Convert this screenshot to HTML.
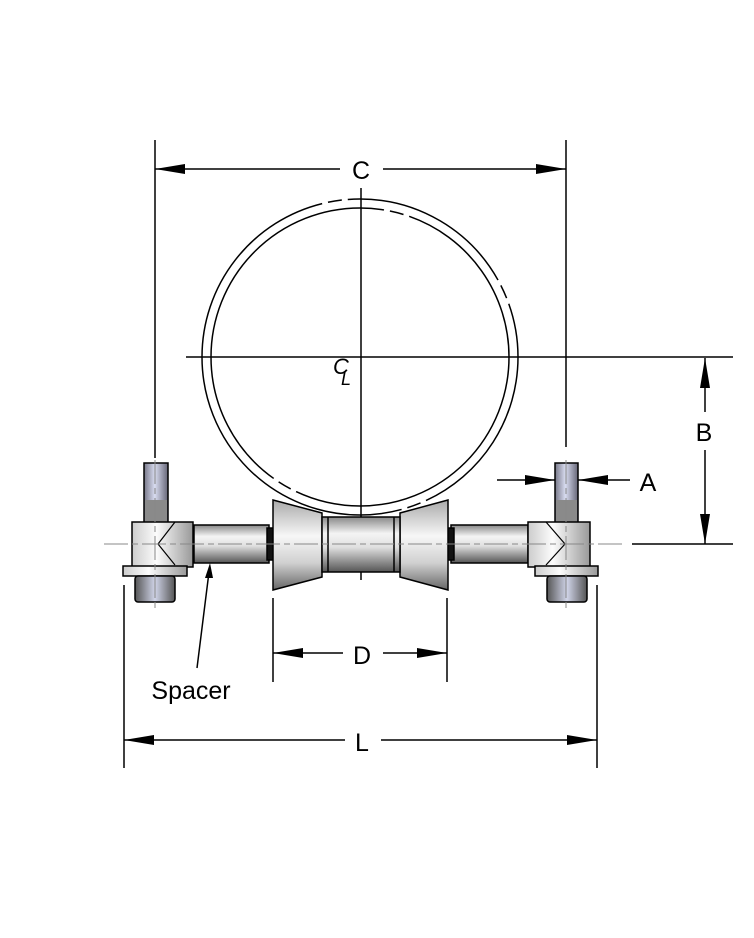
<!DOCTYPE html>
<html><head><meta charset="utf-8"><style>
html,body{margin:0;padding:0;background:#fff;}
svg{display:block;font-family:"Liberation Sans",sans-serif;}
</style></head><body>
<svg width="754" height="938" viewBox="0 0 754 938" xmlns="http://www.w3.org/2000/svg">
<defs>
<linearGradient id="pipe" x1="0" y1="0" x2="0" y2="1">
<stop offset="0" stop-color="#888"/><stop offset="0.3" stop-color="#f4f4f4"/><stop offset="0.55" stop-color="#e0e0e0"/><stop offset="1" stop-color="#555"/>
</linearGradient>
<linearGradient id="cone" x1="0" y1="0" x2="0" y2="1">
<stop offset="0" stop-color="#aaa"/><stop offset="0.4" stop-color="#f7f7f7"/><stop offset="0.7" stop-color="#d0d0d0"/><stop offset="1" stop-color="#666"/>
</linearGradient>
<linearGradient id="blk" x1="0" y1="0" x2="1" y2="0">
<stop offset="0" stop-color="#ccc"/><stop offset="0.4" stop-color="#fcfcfc"/><stop offset="1" stop-color="#999"/>
</linearGradient>
<linearGradient id="stud" x1="0" y1="0" x2="1" y2="0">
<stop offset="0" stop-color="#778"/><stop offset="0.45" stop-color="#d8dcf0"/><stop offset="1" stop-color="#667"/>
</linearGradient>
<linearGradient id="nut" x1="0" y1="0" x2="1" y2="0">
<stop offset="0" stop-color="#555"/><stop offset="0.5" stop-color="#d0d4e8"/><stop offset="1" stop-color="#555"/>
</linearGradient>
</defs>
<g stroke="#000" stroke-width="1.5" fill="none">
<circle cx="360" cy="357" r="158" stroke-dasharray="180 6 14 6 500 6 14 6"/>
<circle cx="360" cy="357" r="149" stroke-dasharray="300 6 14 6 400 6 14 6"/>
<line x1="361" y1="188" x2="361" y2="580"/>
<line x1="186" y1="357" x2="733" y2="357"/>
<line x1="155" y1="140" x2="155" y2="458"/>
<line x1="566" y1="140" x2="566" y2="447"/>
<line x1="155" y1="169" x2="340" y2="169"/>
<line x1="383" y1="169" x2="566" y2="169"/>
<line x1="632" y1="544" x2="733" y2="544"/>
<line x1="705" y1="358" x2="705" y2="412"/>
<line x1="705" y1="450" x2="705" y2="544"/>
<line x1="497" y1="480" x2="555" y2="480"/>
<line x1="578" y1="480" x2="630" y2="480"/>
<line x1="273" y1="598" x2="273" y2="682"/>
<line x1="447" y1="598" x2="447" y2="682"/>
<line x1="273" y1="653" x2="343" y2="653"/>
<line x1="383" y1="653" x2="447" y2="653"/>
<line x1="124" y1="585" x2="124" y2="768"/>
<line x1="597" y1="585" x2="597" y2="768"/>
<line x1="124" y1="740" x2="345" y2="740"/>
<line x1="381" y1="740" x2="597" y2="740"/>
<line x1="197" y1="668" x2="209" y2="572"/>
</g>
<g fill="#000">
<polygon points="155,169 185,164 185,174"/><polygon points="566,169 536,164 536,174"/>
<polygon points="705,358 700,388 710,388"/><polygon points="705,544 700,514 710,514"/>
<polygon points="555,480 525,475 525,485"/><polygon points="578,480 608,475 608,485"/>
<polygon points="273,653 303,648 303,658"/><polygon points="447,653 417,648 417,658"/>
<polygon points="124,740 154,735 154,745"/><polygon points="597,740 567,735 567,745"/>
<polygon points="210,563 205,578 213,578"/>
</g>
<g stroke="#000" stroke-width="1.5">
<rect x="144" y="463" width="24" height="60" fill="url(#stud)"/>
<rect x="555" y="463" width="23" height="60" fill="url(#stud)"/>
<rect x="145" y="500" width="22" height="22" fill="#8a8a8a" stroke="none"/>
<rect x="556" y="500" width="21" height="22" fill="#8a8a8a" stroke="none"/>
<rect x="194" y="525" width="75" height="38" fill="url(#pipe)"/>
<rect x="451" y="525" width="77" height="38" fill="url(#pipe)"/>
<rect x="267" y="528" width="7" height="32" fill="#111"/>
<rect x="447" y="528" width="7" height="32" fill="#111"/>
<polygon points="273,500 322,513 322,577 273,590" fill="url(#cone)"/>
<polygon points="448,500 400,513 400,577 448,590" fill="url(#cone)"/>
<rect x="322" y="517" width="78" height="55" fill="url(#pipe)"/>
<line x1="328" y1="517" x2="328" y2="572"/><line x1="394" y1="517" x2="394" y2="572"/>
<rect x="132" y="522" width="61" height="45" fill="url(#blk)"/>
<rect x="528" y="522" width="62" height="45" fill="url(#blk)"/>
<polyline points="175,522 158,544 175,565" fill="none" stroke-width="1.2"/>
<polyline points="546,522 565,544 546,565" fill="none" stroke-width="1.2"/>
<rect x="123" y="566" width="64" height="10" fill="url(#blk)"/>
<rect x="535" y="566" width="63" height="10" fill="url(#blk)"/>
<rect x="135" y="576" width="40" height="26" rx="3" fill="url(#nut)"/>
<rect x="547" y="576" width="40" height="26" rx="3" fill="url(#nut)"/>
</g>
<g stroke="#888" stroke-width="1" fill="none" stroke-dasharray="24 4 6 4">
<line x1="104" y1="544" x2="622" y2="544"/>
<line x1="155" y1="460" x2="155" y2="612"/>
<line x1="566" y1="460" x2="566" y2="612"/>
</g>
<g font-size="25" fill="#000" text-anchor="middle">
<text x="361" y="179">C</text>
<text x="704" y="441">B</text>
<text x="648" y="491">A</text>
<text x="362" y="664">D</text>
<text x="362" y="751">L</text>
<text x="191" y="699">Spacer</text>
<text x="341" y="374" font-size="22" font-style="italic">C</text>
<text x="346" y="385" font-size="18" font-style="italic">L</text>
</g>
</svg>
</body></html>
